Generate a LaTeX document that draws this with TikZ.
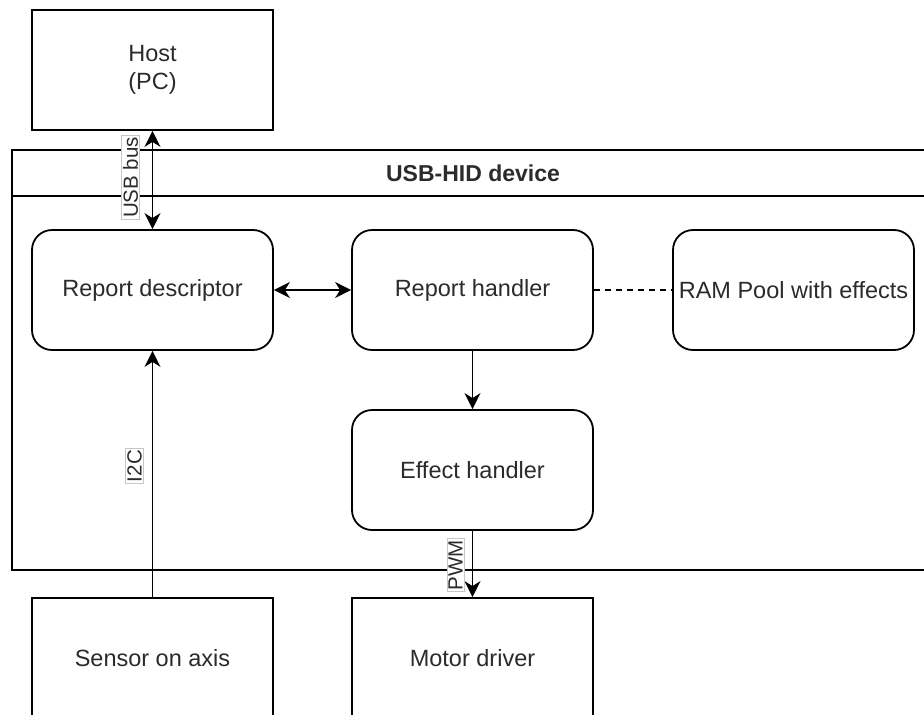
\documentclass[tikz,border=0pt]{standalone}
\usepackage{fontspec}
\setmainfont{Liberation Sans}
\usetikzlibrary{arrows.meta}
\definecolor{txt}{HTML}{2B2B2B}
\begin{document}
\begin{tikzpicture}[x=1pt,y=-1pt,
  line width=1.8pt,
  every node/.style={text=txt},
  tip/.tip={Stealth[length=16pt,width=16pt,inset=5pt]},
  block/.style={draw=black, fill=white, minimum width=241pt, minimum height=120pt,
    inner sep=0pt, font=\fontsize{23.5}{28}\selectfont, align=center},
  roundblock/.style={block, rounded corners=20pt},
  conn/.style={draw=black, -tip},
  biconn/.style={draw=black, tip-tip},
  buslabel/.style={draw=gray!45, line width=0.8pt, fill=white, rotate=90,
    inner sep=1.5pt, font=\fontsize{20.5}{22}\selectfont}]
\useasboundingbox (0,0) rectangle (924,715);
\clip (0,0) rectangle (924,715);

% container for the device, with its header band
\draw[fill=white] (12,150) rectangle (950,570);
\draw (12,196) -- (950,196);
\node[font=\fontsize{23}{26}\selectfont\bfseries] (title) at (473,173) {USB-HID device};

% blocks
\node[block] (host) at (152.5,70) {Host\\(PC)};
\node[roundblock] (rd) at (152.5,290) {Report descriptor};
\node[roundblock] (rh) at (472.5,290) {Report handler};
\node[roundblock] (ram) at (793.5,290) {RAM Pool with effects};
\node[roundblock] (eh) at (472.5,470) {Effect handler};
\node[block] (sensor) at (152.5,658) {Sensor on axis};
\node[block] (motor) at (472.5,658) {Motor driver};

% connections, with their bus names set beside the line
\draw[biconn] (host.south) -- node[xshift=-22pt, buslabel, pos=0.475] (usb) {USB bus} (rd.north);
\draw[biconn] (rd.east) -- (rh.west);
\draw[dash pattern=on 6pt off 5pt] (rh.east) -- (ram.west);
\draw[conn] (rh.south) -- (eh.north);
\draw[conn] (sensor.north) -- node[xshift=-18pt, buslabel, pos=0.532] (i2c) {I2C} (rd.south);
\draw[conn] (eh.south) -- node[xshift=-17pt, buslabel, pos=0.515] (pwm) {PWM} (motor.north);
\end{tikzpicture}
\end{document}
